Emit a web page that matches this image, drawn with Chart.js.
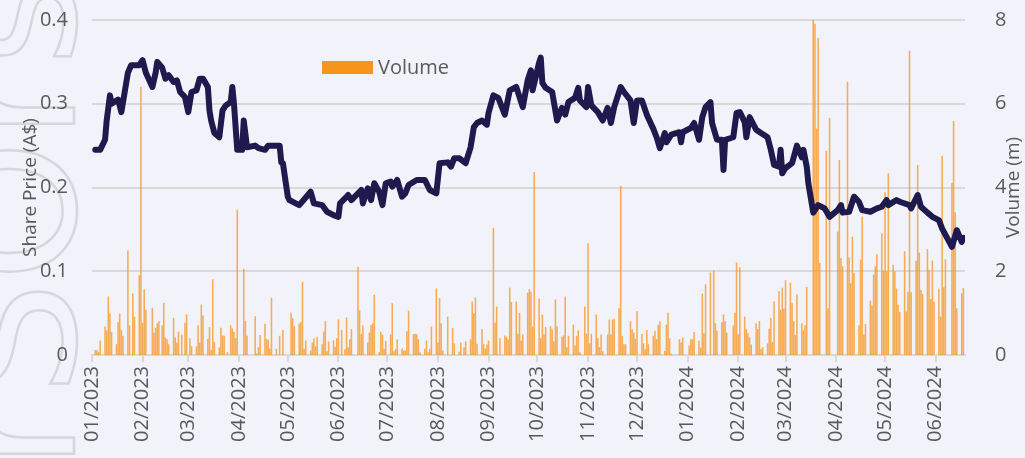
<!DOCTYPE html>
<html>
<head>
<meta charset="utf-8">
<script src="https://cdn.jsdelivr.net/npm/chart.js@4.4.1/dist/chart.umd.min.js"></script>
<style>
    body { margin: 0; background: #f2f3fa; }
    canvas { display: block; }
</style>
</head>
<body>
<canvas id="myChart" width="1025" height="458"></canvas>
<script>
// month ticks on the x axis
const monthLabels = ['01/2023', '02/2023', '03/2023', '04/2023', '05/2023', '06/2023', '07/2023', '08/2023', '09/2023',
    '10/2023', '11/2023', '12/2023', '01/2024', '02/2024', '03/2024', '04/2024', '05/2024', '06/2024'];

// share price (A$)
const priceDates = ['2023-01-03', '2023-01-06', '2023-01-09', '2023-01-10', '2023-01-12', '2023-01-13', '2023-01-17', '2023-01-19',
    '2023-01-23', '2023-01-25', '2023-01-30', '2023-02-01', '2023-02-03', '2023-02-07', '2023-02-09', '2023-02-10', '2023-02-13',
    '2023-02-15', '2023-02-17', '2023-02-20', '2023-02-22', '2023-02-24', '2023-02-27', '2023-03-01', '2023-03-03', '2023-03-06',
    '2023-03-08', '2023-03-10', '2023-03-13', '2023-03-14', '2023-03-15', '2023-03-17', '2023-03-20', '2023-03-22', '2023-03-24',
    '2023-03-27', '2023-03-28', '2023-03-29', '2023-03-31', '2023-04-03', '2023-04-04', '2023-04-06', '2023-04-11', '2023-04-13',
    '2023-04-17', '2023-04-19', '2023-04-26', '2023-04-27', '2023-04-28', '2023-05-01', '2023-05-02', '2023-05-08', '2023-05-15',
    '2023-05-17', '2023-05-22', '2023-05-25', '2023-05-29', '2023-06-01', '2023-06-02', '2023-06-07', '2023-06-09', '2023-06-15',
    '2023-06-16', '2023-06-19', '2023-06-21', '2023-06-23', '2023-06-26', '2023-06-28', '2023-06-30', '2023-07-03', '2023-07-04',
    '2023-07-07', '2023-07-10', '2023-07-12', '2023-07-14', '2023-07-19', '2023-07-24', '2023-07-27', '2023-07-31', '2023-08-02',
    '2023-08-07', '2023-08-09', '2023-08-11', '2023-08-14', '2023-08-18', '2023-08-21', '2023-08-23', '2023-08-25', '2023-08-28',
    '2023-08-31', '2023-09-01', '2023-09-04', '2023-09-07', '2023-09-11', '2023-09-14', '2023-09-18', '2023-09-22', '2023-09-25',
    '2023-09-27', '2023-09-28', '2023-10-02', '2023-10-03', '2023-10-04', '2023-10-06', '2023-10-10', '2023-10-13', '2023-10-16',
    '2023-10-18', '2023-10-20', '2023-10-24', '2023-10-26', '2023-10-27', '2023-10-31', '2023-11-01', '2023-11-03', '2023-11-07',
    '2023-11-10', '2023-11-13', '2023-11-15', '2023-11-17', '2023-11-21', '2023-11-23', '2023-11-27', '2023-11-29', '2023-12-01',
    '2023-12-04', '2023-12-07', '2023-12-11', '2023-12-13', '2023-12-15', '2023-12-18', '2023-12-19', '2023-12-22', '2023-12-27',
    '2023-12-28', '2023-12-29', '2024-01-03', '2024-01-05', '2024-01-08', '2024-01-10', '2024-01-12', '2024-01-15', '2024-01-16',
    '2024-01-19', '2024-01-22', '2024-01-23', '2024-01-24', '2024-01-29', '2024-01-31', '2024-02-02', '2024-02-05', '2024-02-06',
    '2024-02-08', '2024-02-12', '2024-02-15', '2024-02-19', '2024-02-21', '2024-02-23', '2024-02-26', '2024-02-27', '2024-02-28',
    '2024-03-01', '2024-03-05', '2024-03-08', '2024-03-11', '2024-03-12', '2024-03-14', '2024-03-15', '2024-03-18', '2024-03-21',
    '2024-03-25', '2024-03-28', '2024-04-02', '2024-04-04', '2024-04-05', '2024-04-09', '2024-04-12', '2024-04-15', '2024-04-17',
    '2024-04-22', '2024-04-26', '2024-04-29', '2024-05-02', '2024-05-03', '2024-05-08', '2024-05-10', '2024-05-16', '2024-05-17',
    '2024-05-21', '2024-05-23', '2024-05-27', '2024-05-30', '2024-06-03', '2024-06-05', '2024-06-11', '2024-06-14', '2024-06-17',
    '2024-06-18'];
const priceValues = [0.245, 0.245, 0.257, 0.28, 0.31, 0.30, 0.305, 0.29,
    0.337, 0.346, 0.346, 0.352, 0.337, 0.32, 0.337, 0.35, 0.343,
    0.33, 0.334, 0.326, 0.328, 0.314, 0.308, 0.29, 0.314, 0.316,
    0.33, 0.33, 0.32, 0.292, 0.28, 0.265, 0.26, 0.292, 0.298,
    0.302, 0.32, 0.30, 0.245, 0.245, 0.28, 0.248, 0.25, 0.247,
    0.245, 0.25, 0.25, 0.23, 0.229, 0.189, 0.185, 0.179, 0.195,
    0.181, 0.179, 0.171, 0.167, 0.165, 0.181, 0.191, 0.185, 0.197,
    0.181, 0.199, 0.185, 0.205, 0.195, 0.179, 0.205, 0.207, 0.201,
    0.209, 0.189, 0.193, 0.203, 0.209, 0.209, 0.197, 0.193, 0.229,
    0.23, 0.225, 0.235, 0.235, 0.229, 0.248, 0.272, 0.277, 0.28,
    0.275, 0.289, 0.31, 0.307, 0.287, 0.316, 0.32, 0.296, 0.328,
    0.34, 0.316, 0.349, 0.355, 0.325, 0.319, 0.314, 0.28, 0.295,
    0.287, 0.302, 0.307, 0.319, 0.304, 0.296, 0.32, 0.298, 0.29,
    0.28, 0.295, 0.277, 0.296, 0.32, 0.314, 0.304, 0.277, 0.304,
    0.304, 0.287, 0.27, 0.26, 0.247, 0.265, 0.254, 0.263, 0.266,
    0.254, 0.266, 0.271, 0.277, 0.257, 0.284, 0.296, 0.302, 0.277,
    0.257, 0.257, 0.221, 0.257, 0.26, 0.289, 0.29, 0.278, 0.26,
    0.284, 0.269, 0.265, 0.26, 0.245, 0.227, 0.225, 0.245, 0.217,
    0.223, 0.229, 0.25, 0.236, 0.245, 0.225, 0.205, 0.17, 0.179,
    0.175, 0.165, 0.173, 0.179, 0.17, 0.171, 0.189, 0.183, 0.173,
    0.171, 0.175, 0.177, 0.185, 0.179, 0.185, 0.183, 0.179, 0.175,
    0.191, 0.177, 0.17, 0.165, 0.161, 0.151, 0.129, 0.149, 0.135,
    0.14];

// volume (m)
const volumeDates = ['2023-01-03', '2023-01-04', '2023-01-05', '2023-01-06', '2023-01-09', '2023-01-10', '2023-01-11', '2023-01-12',
    '2023-01-13', '2023-01-16', '2023-01-17', '2023-01-18', '2023-01-19', '2023-01-20', '2023-01-23', '2023-01-24', '2023-01-26',
    '2023-01-27', '2023-01-30', '2023-01-31', '2023-02-01', '2023-02-02', '2023-02-03', '2023-02-07', '2023-02-08', '2023-02-09',
    '2023-02-10', '2023-02-11', '2023-02-13', '2023-02-14', '2023-02-15', '2023-02-16', '2023-02-17', '2023-02-20', '2023-02-21',
    '2023-02-22', '2023-02-23', '2023-02-25', '2023-02-27', '2023-02-28', '2023-03-02', '2023-03-03', '2023-03-06', '2023-03-07',
    '2023-03-08', '2023-03-09', '2023-03-10', '2023-03-13', '2023-03-14', '2023-03-15', '2023-03-16', '2023-03-17', '2023-03-20',
    '2023-03-21', '2023-03-22', '2023-03-23', '2023-03-25', '2023-03-27', '2023-03-28', '2023-03-29', '2023-03-30', '2023-03-31',
    '2023-04-04', '2023-04-05', '2023-04-06', '2023-04-11', '2023-04-12', '2023-04-13', '2023-04-14', '2023-04-17', '2023-04-18',
    '2023-04-19', '2023-04-20', '2023-04-21', '2023-04-24', '2023-04-26', '2023-04-28', '2023-05-03', '2023-05-04', '2023-05-05',
    '2023-05-08', '2023-05-09', '2023-05-10', '2023-05-11', '2023-05-12', '2023-05-15', '2023-05-16', '2023-05-17', '2023-05-18',
    '2023-05-19', '2023-05-22', '2023-05-23', '2023-05-24', '2023-05-25', '2023-05-26', '2023-05-29', '2023-05-30', '2023-05-31',
    '2023-06-01', '2023-06-03', '2023-06-05', '2023-06-06', '2023-06-07', '2023-06-08', '2023-06-09', '2023-06-13', '2023-06-14',
    '2023-06-15', '2023-06-16', '2023-06-19', '2023-06-20', '2023-06-21', '2023-06-22', '2023-06-23', '2023-06-26', '2023-06-27',
    '2023-06-28', '2023-06-29', '2023-06-30', '2023-07-03', '2023-07-04', '2023-07-05', '2023-07-06', '2023-07-07', '2023-07-10',
    '2023-07-11', '2023-07-12', '2023-07-13', '2023-07-14', '2023-07-17', '2023-07-18', '2023-07-19', '2023-07-20', '2023-07-21',
    '2023-07-24', '2023-07-25', '2023-07-26', '2023-07-27', '2023-07-28', '2023-07-31', '2023-08-01', '2023-08-02', '2023-08-03',
    '2023-08-04', '2023-08-07', '2023-08-10', '2023-08-11', '2023-08-14', '2023-08-15', '2023-08-17', '2023-08-18', '2023-08-21',
    '2023-08-22', '2023-08-23', '2023-08-24', '2023-08-25', '2023-08-28', '2023-08-29', '2023-08-30', '2023-08-31', '2023-09-01',
    '2023-09-04', '2023-09-05', '2023-09-06', '2023-09-08', '2023-09-11', '2023-09-12', '2023-09-13', '2023-09-14', '2023-09-15',
    '2023-09-18', '2023-09-19', '2023-09-20', '2023-09-21', '2023-09-22', '2023-09-25', '2023-09-26', '2023-09-27', '2023-09-28',
    '2023-09-29', '2023-10-02', '2023-10-03', '2023-10-04', '2023-10-05', '2023-10-06', '2023-10-09', '2023-10-10', '2023-10-11',
    '2023-10-12', '2023-10-13', '2023-10-16', '2023-10-17', '2023-10-18', '2023-10-19', '2023-10-20', '2023-10-23', '2023-10-24',
    '2023-10-25', '2023-10-26', '2023-10-27', '2023-10-30', '2023-10-31', '2023-11-01', '2023-11-02', '2023-11-03', '2023-11-06',
    '2023-11-07', '2023-11-08', '2023-11-09', '2023-11-10', '2023-11-13', '2023-11-14', '2023-11-15', '2023-11-16', '2023-11-17',
    '2023-11-20', '2023-11-21', '2023-11-22', '2023-11-23', '2023-11-24', '2023-11-27', '2023-11-28', '2023-11-29', '2023-11-30',
    '2023-12-01', '2023-12-04', '2023-12-05', '2023-12-06', '2023-12-07', '2023-12-08', '2023-12-11', '2023-12-12', '2023-12-13',
    '2023-12-14', '2023-12-15', '2023-12-18', '2023-12-19', '2023-12-20', '2023-12-21', '2023-12-22', '2023-12-27', '2023-12-28',
    '2023-12-29', '2024-01-02', '2024-01-03', '2024-01-04', '2024-01-05', '2024-01-08', '2024-01-09', '2024-01-10', '2024-01-11',
    '2024-01-12', '2024-01-15', '2024-01-17', '2024-01-18', '2024-01-19', '2024-01-22', '2024-01-23', '2024-01-24', '2024-01-25',
    '2024-01-29', '2024-01-30', '2024-01-31', '2024-02-01', '2024-02-02', '2024-02-05', '2024-02-06', '2024-02-07', '2024-02-08',
    '2024-02-09', '2024-02-12', '2024-02-13', '2024-02-14', '2024-02-15', '2024-02-16', '2024-02-19', '2024-02-20', '2024-02-21',
    '2024-02-22', '2024-02-23', '2024-02-26', '2024-02-27', '2024-02-28', '2024-02-29', '2024-03-01', '2024-03-04', '2024-03-05',
    '2024-03-06', '2024-03-07', '2024-03-08', '2024-03-11', '2024-03-12', '2024-03-13', '2024-03-14', '2024-03-18', '2024-03-19',
    '2024-03-20', '2024-03-21', '2024-03-22', '2024-03-26', '2024-03-27', '2024-03-28', '2024-04-02', '2024-04-03', '2024-04-04',
    '2024-04-05', '2024-04-08', '2024-04-09', '2024-04-10', '2024-04-11', '2024-04-12', '2024-04-15', '2024-04-16', '2024-04-17',
    '2024-04-18', '2024-04-19', '2024-04-22', '2024-04-23', '2024-04-24', '2024-04-25', '2024-04-26', '2024-04-29', '2024-04-30',
    '2024-05-01', '2024-05-02', '2024-05-03', '2024-05-06', '2024-05-07', '2024-05-08', '2024-05-09', '2024-05-10', '2024-05-13',
    '2024-05-14', '2024-05-15', '2024-05-16', '2024-05-17', '2024-05-20', '2024-05-21', '2024-05-22', '2024-05-23', '2024-05-24',
    '2024-05-27', '2024-05-28', '2024-05-29', '2024-05-30', '2024-05-31', '2024-06-03', '2024-06-04', '2024-06-05', '2024-06-06',
    '2024-06-07', '2024-06-11', '2024-06-12', '2024-06-13', '2024-06-14', '2024-06-17', '2024-06-18'];
const volumeValues = [0.11, 0.11, 0.07, 0.34, 0.67, 0.58, 1.39, 0.99,
    0.54, 0.25, 0.78, 0.98, 0.59, 0.45, 2.49, 0.7, 1.46,
    0.91, 1.9, 6.4, 0.76, 1.56, 1.07, 1.12, 0.53, 0.64,
    0.75, 0.8, 0.7, 1.24, 0.41, 0.37, 0.25, 0.88, 0.41,
    0.29, 0.55, 0.48, 0.76, 0.96, 0.39, 0.2, 0.2, 0.7,
    0.29, 1.2, 0.94, 0.38, 0.66, 0.12, 1.8, 0.3, 0.17,
    0.64, 0.46, 0.45, 0.06, 0.7, 0.63, 0.54, 0.39, 3.46,
    2.05, 0.8, 0.45, 0.92, 0.03, 0.18, 0.47, 0.74, 0.38,
    0.35, 0.15, 1.36, 0.14, 0.45, 0.59, 1.0, 0.87, 0.68,
    0.74, 0.78, 1.74, 0.14, 0.34, 0.1, 0.29, 0.39, 0.2,
    0.43, 0.25, 0.55, 0.8, 0.08, 0.31, 0.34, 0.19, 0.39,
    0.84, 0.59, 0.13, 0.89, 0.18, 0.37, 0.61, 2.1, 1.06,
    0.49, 0.7, 0.29, 0.53, 0.7, 0.75, 1.43, 0.06, 0.55,
    0.48, 0.14, 0.33, 0.48, 1.23, 0.08, 0.13, 0.37, 0.15,
    0.1, 0.1, 0.56, 1.05, 0.49, 0.5, 0.49, 0.37, 0.06,
    0.14, 0.34, 0.06, 0.14, 0.67, 1.58, 0.29, 1.35, 0.75,
    0.1, 0.91, 0.64, 0.27, 0.07, 0.29, 0.18, 0.32, 0.37,
    1.27, 0.99, 1.37, 0.26, 0.61, 0.25, 0.14, 0.24, 0.34,
    3.03, 0.76, 1.15, 0.39, 0.46, 0.43, 0.37, 1.6, 1.26,
    1.27, 0.5, 1.0, 0.34, 0.49, 1.48, 1.56, 1.5, 0.67,
    4.36, 1.34, 0.39, 0.96, 0.49, 0.66, 0.68, 0.61, 0.32,
    1.32, 0.68, 0.43, 0.46, 1.39, 0.18, 0.45, 0.72, 0.22,
    0.45, 0.58, 0.06, 1.15, 0.5, 2.66, 0.27, 0.5, 0.96,
    0.4, 0.18, 0.48, 0.08, 0.48, 0.84, 0.48, 0.84, 0.86,
    1.11, 4.03, 0.45, 0.25, 0.25, 0.8, 0.61, 0.53, 0.38,
    1.04, 0.5, 0.27, 0.13, 0.59, 0.25, 0.45, 0.57, 0.37,
    0.71, 0.8, 0.09, 0.72, 1.0, 0.39, 0.02, 0.37, 0.29,
    0.41, 0.22, 0.37, 0.37, 0.54, 0.33, 0.17, 1.46, 0.51,
    1.68, 1.96, 2.01, 0.75, 0.58, 0.78, 0.96, 0.8, 0.53,
    0.7, 1.0, 2.2, 0.49, 2.09, 0.91, 0.61, 0.51, 0.41,
    0.24, 0.75, 0.61, 0.8, 0.13, 0.18, 0.27, 0.62, 0.88,
    0.3, 1.27, 1.52, 1.07, 1.6, 1.1, 1.78, 1.72, 1.23,
    0.8, 0.47, 1.44, 0.75, 0.58, 0.7, 1.62, 8.0, 7.9,
    5.4, 7.56, 2.19, 4.87, 1.11, 5.65, 2.94, 4.65, 2.31,
    2.11, 6.52, 2.32, 1.71, 2.82, 1.95, 0.7, 2.27, 3.3,
    0.48, 0.73, 1.29, 1.17, 1.91, 2.11, 2.4, 2.9, 2.0,
    3.88, 1.99, 4.33, 2.15, 1.99, 1.58, 1.19, 1.02, 2.47,
    1.03, 1.5, 7.26, 1.49, 2.24, 4.53, 2.44, 1.55, 1.45,
    2.52, 2.03, 1.33, 2.25, 1.27, 1.58, 0.91, 4.75, 1.61,
    2.28, 4.1, 5.58, 3.4, 1.11, 1.47, 1.59];

const startDate = '2023-01-01'
const endDate = '2024-06-19'

const fontFamily = '"Open Sans", "Noto Sans", sans-serif'
const textColor = '#595959'
const gridColor = '#d9d9d9'

function dayNumber(s) {
    const [y, m, d] = s.split('-').map(Number)
    const [y0, m0, d0] = startDate.split('-').map(Number)
    return Math.round((Date.UTC(y, m - 1, d) - Date.UTC(y0, m0 - 1, d0)) / 86400000)
}

function monthDay(label) {
    const [m, y] = label.split('/')
    return dayNumber(`${y}-${m}-01`)
}

const monthPositions = monthLabels.map(monthDay)

// scales get a fixed size and no extra label padding, so the plot box sits where the original one does
function fixSize(w, h) {
    return scale => {
        if (w) scale.width = w
        if (h) scale.height = h
        scale.paddingTop = 0
        scale.paddingBottom = 0
        scale.paddingLeft = 0
        scale.paddingRight = 0
    }
}

// background + faint outline watermark on the left edge
const backgroundPlugin = {
    id: 'background',
    beforeDraw(chart) {
        const ctx = chart.ctx
        ctx.save()
        ctx.fillStyle = '#f2f3fa'
        ctx.fillRect(0, 0, chart.width, chart.height)
        ctx.beginPath()
        ctx.rect(0, 0, 80, chart.height)
        ctx.clip()
        ctx.translate(74, 470)
        ctx.rotate(-Math.PI / 2)
        ctx.font = '180px "DejaVu Sans"'
        ctx.strokeStyle = '#d6d6dc'
        ctx.lineWidth = 2.5
        ctx.strokeText('rSOrsell', 0, 0)
        ctx.restore()
    }
}

// legend inside the plot (only the volume series) and right-hand axis title
const labelsPlugin = {
    id: 'labels',
    afterDraw(chart) {
        const ctx = chart.ctx
        const vol = chart.data.datasets[1]
        ctx.save()
        ctx.fillStyle = '#f7941d'
        ctx.fillRect(322, 61, 51, 13)
        ctx.fillStyle = textColor
        ctx.font = `20px ${fontFamily}`
        ctx.textBaseline = 'middle'
        ctx.fillText(vol.label, 378, 68)

        const y2 = chart.scales.y2
        ctx.translate(1014, (y2.top + y2.bottom) / 2)
        ctx.rotate(-Math.PI / 2)
        ctx.textAlign = 'center'
        ctx.font = `19px ${fontFamily}`
        ctx.fillText('Volume (m)', 0, 0)
        ctx.restore()
    }
}

const ctx = document.getElementById('myChart').getContext('2d')

const myChart = new Chart(ctx, {
    data: {
        datasets: [
            {
                type: 'line',
                label: 'Share Price',
                data: priceDates.map((d, i) => ({x: dayNumber(d), y: priceValues[i]})),
                yAxisID: 'y',
                borderColor: '#1f1a4e',
                borderWidth: 6,
                borderJoinStyle: 'round',
                borderCapStyle: 'round',
                pointRadius: 0,
                pointHoverRadius: 0,
                tension: 0
            },
            {
                type: 'bar',
                label: 'Volume',
                data: volumeDates.map((d, i) => ({x: dayNumber(d), y: volumeValues[i]})),
                yAxisID: 'y2',
                backgroundColor: 'rgba(247, 148, 29, 0.75)',
                barThickness: 0.9
            }
        ]
    },
    options: {
        responsive: false,
        devicePixelRatio: 1,
        animation: false,
        layout: {autoPadding: false, padding: {top: 20, left: 0, right: 0, bottom: 0}},
        plugins: {
            legend: {display: false},
            tooltip: {enabled: false}
        },
        scales: {
            x: {
                type: 'linear',
                min: 0,
                max: dayNumber(endDate),
                offset: false,
                afterBuildTicks: scale => {
                    scale.ticks = monthPositions.map(v => ({value: v}))
                },
                afterFit: fixSize(0, 103),
                ticks: {
                    autoSkip: false,
                    minRotation: 90,
                    maxRotation: 90,
                    padding: 4,
                    color: textColor,
                    font: {family: fontFamily, size: 20},
                    callback: v => monthLabels[monthPositions.indexOf(v)]
                },
                grid: {
                    offset: false,
                    drawOnChartArea: false,
                    drawTicks: true,
                    tickLength: 7,
                    color: gridColor,
                    lineWidth: 2
                },
                border: {display: true, color: gridColor, width: 2}
            },
            y: {
                position: 'left',
                min: 0,
                max: 0.4,
                afterFit: fixSize(92, 0),
                ticks: {
                    stepSize: 0.1,
                    padding: 24,
                    color: textColor,
                    font: {family: fontFamily, size: 20},
                    callback: v => String(Math.round(v * 10) / 10)
                },
                grid: {color: gridColor, lineWidth: 2, drawTicks: false},
                border: {display: false},
                title: {
                    display: true,
                    text: 'Share Price (A$)',
                    color: textColor,
                    font: {family: fontFamily, size: 19},
                    padding: {top: 19, bottom: 0}
                }
            },
            y2: {
                position: 'right',
                min: 0,
                max: 8,
                afterFit: fixSize(60, 0),
                ticks: {
                    stepSize: 2,
                    padding: 22,
                    color: textColor,
                    font: {family: fontFamily, size: 20}
                },
                grid: {display: false},
                border: {display: false}
            }
        }
    },
    plugins: [backgroundPlugin, labelsPlugin]
});
</script>
</body>
</html>
